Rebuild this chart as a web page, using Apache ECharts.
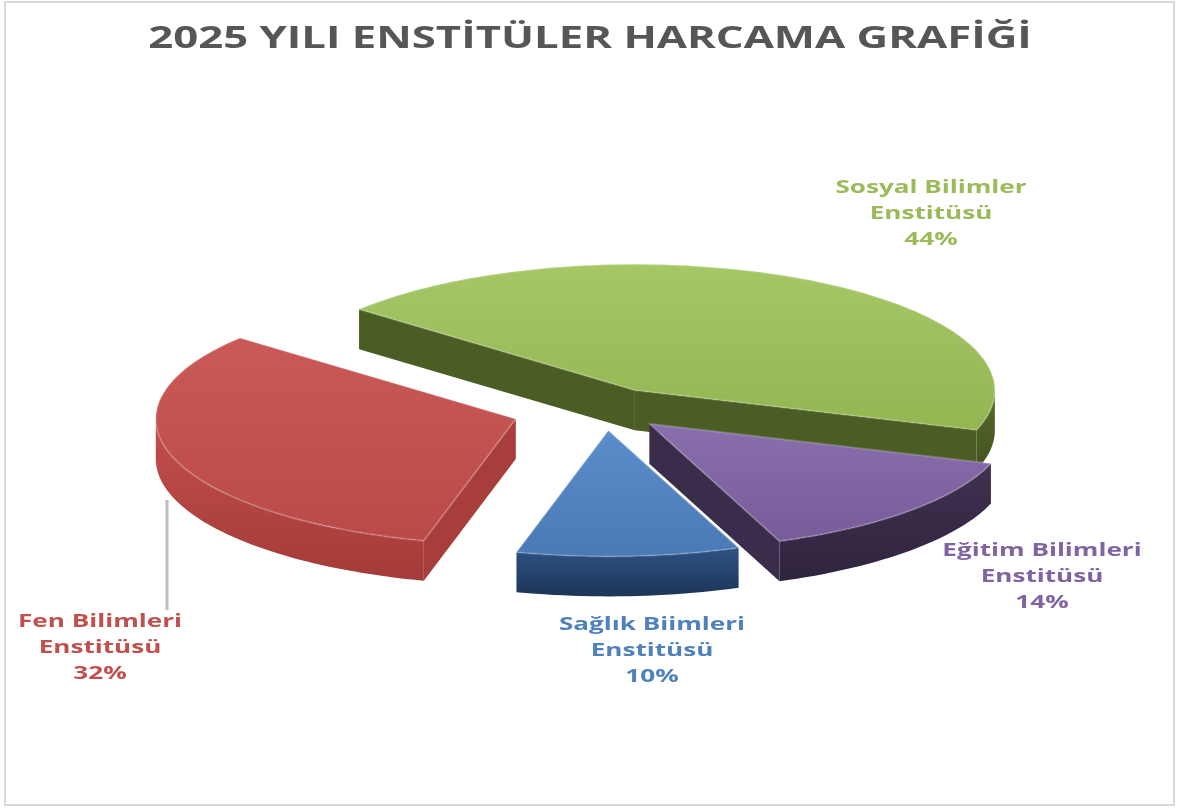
<!DOCTYPE html>
<html><head><meta charset="utf-8">
<script src="https://cdn.jsdelivr.net/npm/echarts@6/dist/echarts.min.js"></script>
<style>html,body{margin:0;padding:0;background:#fff}#c{width:1177px;height:809px}</style>
</head><body><div id="c"></div>
<script>
// ---- data ----
const titleText = '2025 YILI ENSTİTÜLER HARCAMA GRAFİĞİ';
const categories = ['Sosyal Bilimler Enstitüsü', 'Eğitim Bilimleri Enstitüsü', 'Sağlık Biimleri Enstitüsü', 'Fen Bilimleri Enstitüsü'];
const shares = [44, 14, 10, 32];

// ---- styles / layout ----
const topColors = [['#a6c766', '#93b552'], ['#8a6fad', '#785c9a'], ['#5a8dcb', '#4a7ab5'], ['#c95a57', '#b94a47']];
const wallColors = [['#55692c', '#435420'], ['#3f3151', '#2f243e'], ['#2e5283', '#1d3557'], ['#c24f4b', '#a43b38']];
const sideColors = ['#4a5d24', '#3a2d4b', '#233f66', '#a83e3b'];
const labelColors = ['#9BBB59', '#8064A2', '#4F81BD', '#C0504D'];
const explode = [0.17, 0.17, 0.17, 0.26];
const labelPos = [[931, 214], [1042, 577], [652, 651], [100, 648]];
const PIE = { cx: 605, cy: 409, rx: 360, ry: 126, depth: 40, startAngle: 140 };
const STRETCH = 1.45;

const total = shares.reduce((a, b) => a + b, 0);
const D = Math.PI / 180;

function grad(c) {
  return { type: 'linear', x: 0, y: 0, x2: 0, y2: 1, colorStops: [{ offset: 0, color: c[0] }, { offset: 1, color: c[1] }] };
}

function renderItem(params, api) {
  const i = params.dataIndex;
  let before = 0;
  for (let k = 0; k < i; k++) before += shares[k];
  const v = api.value(0);
  const a0 = PIE.startAngle - before / total * 360;
  const a1 = a0 - v / total * 360;
  const mid = (a0 + a1) / 2 * D;
  const ox = PIE.cx + explode[i] * PIE.rx * Math.cos(mid);
  const oy = PIE.cy - explode[i] * PIE.ry * Math.sin(mid);
  const d = PIE.depth;
  const P = (a, dy) => [ox + PIE.rx * Math.cos(a * D), oy - PIE.ry * Math.sin(a * D) + (dy || 0)];
  const arcPts = (from, to, dy) => {
    const n = Math.max(6, Math.ceil(Math.abs(to - from) / 1.5));
    const pts = [];
    for (let j = 0; j <= n; j++) pts.push(P(from + (to - from) * j / n, dy));
    return pts;
  };
  const children = [];
  // radial faces facing the viewer
  if (Math.cos(a0 * D) < 0) {
    children.push({ type: 'polygon', shape: { points: [[ox, oy], P(a0), P(a0, d), [ox, oy + d]] }, style: { fill: sideColors[i] } });
  }
  if (Math.cos(a1 * D) > 0) {
    children.push({ type: 'polygon', shape: { points: [[ox, oy], P(a1), P(a1, d), [ox, oy + d]] }, style: { fill: sideColors[i] } });
  }
  // curved outer wall (front facing part)
  for (let k = -1; k <= 1; k++) {
    const lo = Math.max(a1, -180 + 360 * k);
    const hi = Math.min(a0, 360 * k);
    if (lo < hi) {
      const topArc = arcPts(hi, lo, 0);
      const botArc = arcPts(lo, hi, d);
      children.push({ type: 'polygon', shape: { points: topArc.concat(botArc) }, style: { fill: grad(wallColors[i]) } });
    }
  }
  // top face
  children.push({ type: 'polygon', shape: { points: [[ox, oy]].concat(arcPts(a0, a1, 0)) }, style: { fill: grad(topColors[i]), stroke: 'rgba(255,255,255,0.18)', lineWidth: 2, lineJoin: 'round' } });
  return { type: 'group', children };
}

const labelGraphics = categories.map((name, i) => {
  const cut = name.lastIndexOf(' ');
  const pct = Math.round(shares[i] / total * 100) + '%';
  return {
    type: 'text', x: labelPos[i][0], y: labelPos[i][1], scaleX: STRETCH, z: 10,
    style: {
      text: name.slice(0, cut) + '\n' + name.slice(cut + 1) + '\n' + pct,
      fill: labelColors[i], font: 'bold 18px "Open Sans", sans-serif',
      textAlign: 'center', textVerticalAlign: 'middle', lineHeight: 26
    }
  };
});

const option = {
  backgroundColor: '#fff',
  animation: false,
  graphic: [
    { type: 'rect', shape: { x: 5, y: 2, width: 1169, height: 803 }, style: { fill: 'none', stroke: '#d9d9d9', lineWidth: 2 }, z: 0 },
    { type: 'line', shape: { x1: 167, y1: 500, x2: 167, y2: 610 }, style: { stroke: '#bfbfbf', lineWidth: 3 }, z: 0 },
    {
      type: 'text', x: 590, y: 39, scaleX: 1.41, z: 10,
      style: { text: titleText, font: 'bold 31px "Open Sans", sans-serif', fill: '#565656', textAlign: 'center', textVerticalAlign: 'middle' }
    }
  ].concat(labelGraphics),
  series: [{
    type: 'custom',
    coordinateSystem: 'none',
    renderItem: renderItem,
    data: shares.map((v, i) => ({ name: categories[i], value: [v] }))
  }]
};
echarts.init(document.getElementById('c')).setOption(option);
</script></body></html>
